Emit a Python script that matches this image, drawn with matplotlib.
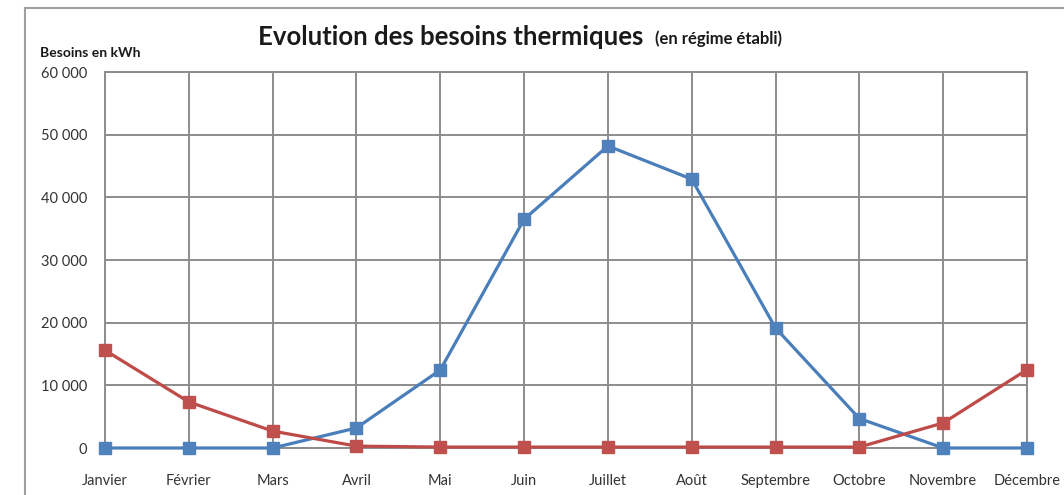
import matplotlib.pyplot as plt
from matplotlib.lines import Line2D

# Monthly thermal needs (kWh), steady state
mois = ["Janvier", "Février", "Mars", "Avril", "Mai", "Juin", "Juillet",
        "Août", "Septembre", "Octobre", "Novembre", "Décembre"]
besoins_froid = [0, 0, 0, 3200, 12450, 36500, 48200, 42900, 19150, 4700, 0, 0]
besoins_chaud = [15600, 7350, 2700, 300, 150, 150, 150, 150, 150, 150, 4000, 12500]
y_ticks = [0, 10000, 20000, 30000, 40000, 50000, 60000]

plt.rcParams['font.family'] = ['Lato', 'DejaVu Sans']

fig = plt.figure(figsize=(10.64, 4.95), dpi=100)
ax = fig.add_axes([105 / 1064, 47 / 495, 922 / 1064, 376 / 495])

x = list(range(len(mois)))
ax.plot(x, besoins_froid, color="#4a7ebb", lw=2.3, marker="s", ms=8,
        mfc="#4f81bd", mec="#4f81bd", zorder=3, clip_on=False)
ax.plot(x, besoins_chaud, color="#be4b48", lw=2.3, marker="s", ms=8,
        mfc="#c0504d", mec="#c0504d", zorder=3, clip_on=False)

ax.set_xlim(0, 11)
ax.set_ylim(0, 60000)
ax.set_xticks(x)
ax.set_xticklabels(mois, fontsize=10.5, color="#333333")
ax.set_yticks(y_ticks)
ax.set_yticklabels([f"{v:,}".replace(",", " ") for v in y_ticks],
                   fontsize=10.5, color="#333333")
ax.tick_params(axis="x", length=0, pad=19)
ax.tick_params(axis="y", length=0, pad=13)
ax.grid(True, color="#8c8c8c", lw=1.4)
ax.set_axisbelow(True)
for s in ax.spines.values():
    s.set_color("#8c8c8c")
    s.set_linewidth(1.4)

fig.text(258 / 1064, 1 - 37 / 495, "Evolution des besoins thermiques",
         fontsize=18.5, fontweight="bold", color="#1a1a1a", va="center")
fig.text(655 / 1064, 1 - 39 / 495, "(en régime établi)",
         fontsize=12, fontweight="bold", color="#1a1a1a", va="center")
fig.text(40 / 1064, 1 - 53 / 495, "Besoins en kWh",
         fontsize=10, fontweight="bold", color="#1a1a1a", va="center")

# outer chart frame
fig.add_artist(Line2D([25 / 1064, 25 / 1064], [0, 1 - 8 / 495],
                      transform=fig.transFigure, color="#a0a0a0", lw=1.5))
fig.add_artist(Line2D([25 / 1064, 1], [1 - 8 / 495, 1 - 8 / 495],
                      transform=fig.transFigure, color="#a0a0a0", lw=1.5))

fig.savefig("out.png", dpi=100)
